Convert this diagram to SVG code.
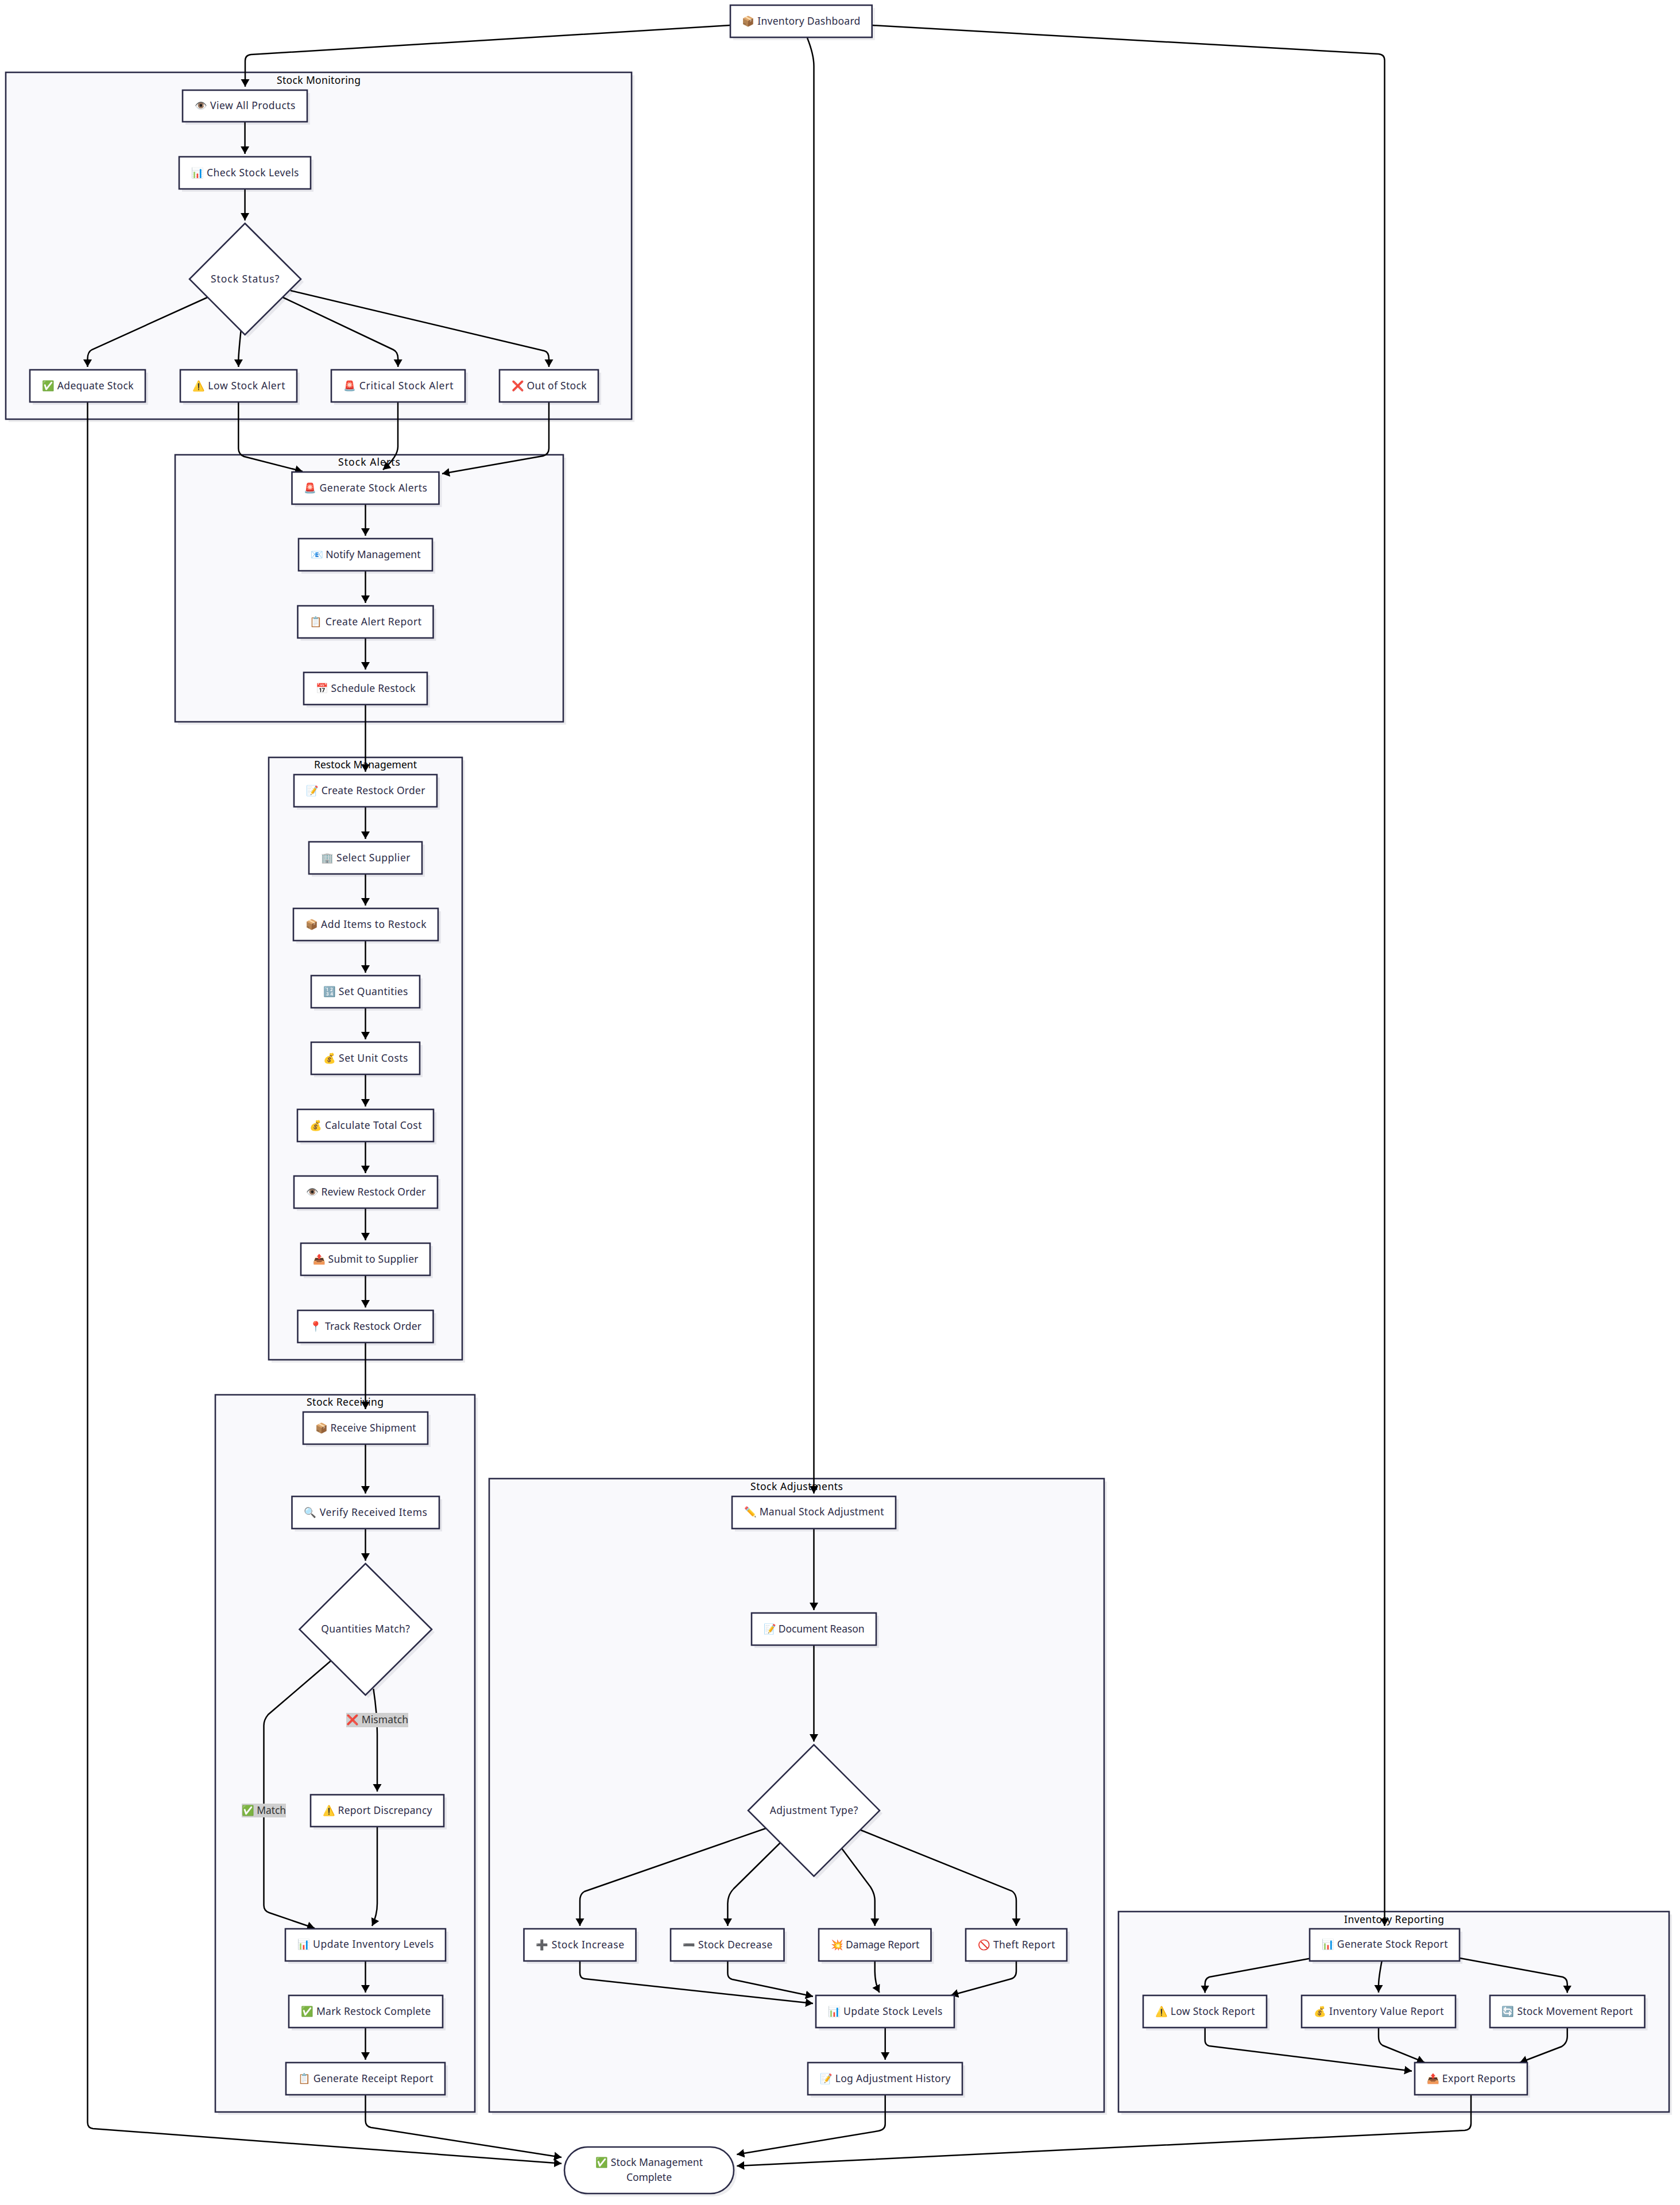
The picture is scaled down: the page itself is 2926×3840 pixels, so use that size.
<svg xmlns="http://www.w3.org/2000/svg" width="2926" height="3840" viewBox="0 0 2926 3840">
<style>
text{font-family:"Noto Sans","Liberation Sans","Noto Sans CJK SC",sans-serif;font-size:17.5px;fill:#2b2b47;text-anchor:middle;dominant-baseline:central;transform:translateY(-1.2px)}
.t{fill:#000;transform:none}
.n{fill:#fff;stroke:#2b2b47;stroke-width:2.6}
.c{fill:#f9f9fc;stroke:#2b2b47;stroke-width:2.6}
.s{fill:#1a1a33;opacity:.08;transform:translate(5px,5px)}
.e{fill:none;stroke:#000;stroke-width:2.5;marker-end:url(#a)}
.l{fill:#cfcfcf}
.el{fill:#333}
</style>
<defs>
<marker id="a" markerUnits="userSpaceOnUse" markerWidth="13" markerHeight="16" refX="13" refY="8" orient="auto"><path d="M0,0.5 L13,8 L0,15.5z" fill="#000"/></marker>
</defs>
<rect width="2926" height="3840" fill="#fff"/>
<g id="clusters">
<g id="cluster-monitoring"><rect class="s" x="10" y="126" width="1090" height="604"/><rect class="c" x="10" y="126" width="1090" height="604"/><text class="t" x="555" y="139" textLength="146">Stock Monitoring</text></g>
<g id="cluster-alerts"><rect class="s" x="305" y="792" width="676" height="465"/><rect class="c" x="305" y="792" width="676" height="465"/><text class="t" x="643" y="804" textLength="108">Stock Alerts</text></g>
<g id="cluster-restock"><rect class="s" x="468" y="1319" width="337" height="1049"/><rect class="c" x="468" y="1319" width="337" height="1049"/><text class="t" x="636.500" y="1331" textLength="179">Restock Management</text></g>
<g id="cluster-receiving"><rect class="s" x="375" y="2429" width="452" height="1249"/><rect class="c" x="375" y="2429" width="452" height="1249"/><text class="t" x="601" y="2441" textLength="134">Stock Receiving</text></g>
<g id="cluster-adjustments"><rect class="s" x="852" y="2575" width="1071" height="1103"/><rect class="c" x="852" y="2575" width="1071" height="1103"/><text class="t" x="1387.500" y="2588" textLength="161">Stock Adjustments</text></g>
<g id="cluster-reporting"><rect class="s" x="1948" y="3329" width="959" height="349"/><rect class="c" x="1948" y="3329" width="959" height="349"/><text class="t" x="2428" y="3342" textLength="174">Inventory Reporting</text></g>
</g>
<g id="connectors">
<path class="e" d="M1272,44 L437,95 Q427,96 427,106 L427,151"/>
<path class="e" d="M1406,66 Q1417.500,95 1417.500,115 L1417.500,2601"/>
<path class="e" d="M1519,44 L2401,94 Q2411.500,95 2411.500,105 L2411.500,3354"/>
<path class="e" d="M426.600,212 L426.600,268"/>
<path class="e" d="M426.600,329 L426.600,384"/>
<path class="e" d="M361,518 L160,609 Q152.500,613 152.500,625 L152.500,639"/>
<path class="e" d="M419.600,576 Q416,610 415.400,625 L415.400,639"/>
<path class="e" d="M493,518 L685,609 Q693.200,613 693.200,625 L693.200,639"/>
<path class="e" d="M506,506 L948,611 Q956,613 956,625 L956,639"/>
<path class="e" d="M152.500,700 L152.500,3696 Q152.500,3706 162,3707 L978,3767.700"/>
<path class="e" d="M415.300,700 L415.300,781 Q415.300,791 425,795 L527,821"/>
<path class="e" d="M693,700 L693,778 Q693,795 667,818"/>
<path class="e" d="M956,700 L956,781 Q956,791 946,794 L770,825"/>
<path class="e" d="M636.500,878 L636.500,933"/>
<path class="e" d="M636.500,994 L636.500,1050"/>
<path class="e" d="M636.500,1111 L636.500,1166"/>
<path class="e" d="M636.500,1227 L636.500,1344"/>
<path class="e" d="M636.500,1405 L636.500,1461"/>
<path class="e" d="M636.500,1522 L636.500,1577"/>
<path class="e" d="M636.500,1638 L636.500,1694"/>
<path class="e" d="M636.500,1755 L636.500,1810"/>
<path class="e" d="M636.500,1871 L636.500,1927"/>
<path class="e" d="M636.500,1988 L636.500,2043"/>
<path class="e" d="M636.500,2104 L636.500,2160"/>
<path class="e" d="M636.500,2221 L636.500,2277"/>
<path class="e" d="M636.500,2338 L636.500,2454"/>
<path class="e" d="M636.500,2515 L636.500,2601"/>
<path class="e" d="M636.500,2662 L636.500,2718"/>
<path class="e" d="M576.600,2892 L467,2986 Q459.500,2995 459.500,3005 L459.500,3318 Q459.500,3328 469,3331 L548,3358"/>
<path class="e" d="M650.400,2941 Q657,2985 657,3020 L657,3120"/>
<path class="e" d="M657,3181 L657,3315 Q657,3335 648,3354"/>
<path class="e" d="M636.500,3415 L636.500,3470"/>
<path class="e" d="M636.500,3531 L636.500,3587"/>
<path class="e" d="M636.500,3648 L636.500,3693 Q636.500,3703 646,3705 L978,3757"/>
<path class="e" d="M1417.500,2662 L1417.500,2804"/>
<path class="e" d="M1417.500,2865 L1417.500,3033"/>
<path class="e" d="M1334,3184 L1018,3294 Q1010,3298 1010,3310 L1010,3354"/>
<path class="e" d="M1358.600,3209.500 L1278,3289 Q1267.400,3300 1267.400,3315 L1267.400,3354"/>
<path class="e" d="M1466,3219 L1516,3286 Q1523.700,3298 1523.700,3310 L1523.700,3354"/>
<path class="e" d="M1499,3187 L1762,3293 Q1770,3298 1770,3310 L1770,3354"/>
<path class="e" d="M1010,3415 L1010,3436 Q1010,3445 1018,3446 L1416,3489"/>
<path class="e" d="M1267.400,3415 L1267.400,3436 Q1267.400,3445 1275,3447 L1416,3476.700"/>
<path class="e" d="M1523.700,3415 L1523.700,3433 Q1524,3455 1531.700,3470"/>
<path class="e" d="M1770,3415 L1770,3433 Q1770,3445 1758,3447 L1656,3475"/>
<path class="e" d="M1541.700,3531 L1541.700,3587"/>
<path class="e" d="M1541.700,3648 L1541.700,3699 Q1541.700,3709 1530,3711 L1283.300,3752"/>
<path class="e" d="M2562,3648 L2562,3698 Q2562,3709 2551,3710 L1283.300,3772"/>
<path class="e" d="M2281,3410.700 L2106,3443 Q2098.700,3446 2098.700,3455 L2098.700,3470.500"/>
<path class="e" d="M2406.700,3415 Q2401,3445 2401,3458 L2401,3470"/>
<path class="e" d="M2542,3410 L2722,3443 Q2729.700,3446 2729.700,3455 L2729.700,3470.500"/>
<path class="e" d="M2098.700,3531 L2098.700,3553 Q2098.700,3561 2106,3563 L2459,3606.700"/>
<path class="e" d="M2401,3531 L2401,3546 Q2401,3558 2408,3562 L2481,3591.700"/>
<path class="e" d="M2729.700,3531 L2729.700,3546 Q2729.700,3558 2720,3564 L2647,3592"/>
</g>
<g id="edge-labels">
<g id="label-match"><rect class="l" x="421" y="3141" width="77" height="24"/><text class="el" x="459.500" y="3153" textLength="77">✅ Match</text></g>
<g id="label-mismatch"><rect class="l" x="603" y="2983" width="108" height="25"/><text class="el" x="657" y="2995.500" textLength="108">❌ Mismatch</text></g>
</g>
<g id="dashboard"><rect class="s" x="1272" y="9" width="246.700" height="56"/><rect class="n" x="1272" y="9" width="246.700" height="56"/><text x="1395.300" y="37" textLength="206">📦 Inventory Dashboard</text></g>
<g id="view-all"><rect class="s" x="318" y="157" width="217" height="55"/><rect class="n" x="318" y="157" width="217" height="55"/><text x="426.500" y="184.500" textLength="176">👁️ View All Products</text></g>
<g id="check-levels"><rect class="s" x="312" y="273" width="229" height="56"/><rect class="n" x="312" y="273" width="229" height="56"/><text x="426.500" y="301" textLength="188">📊 Check Stock Levels</text></g>
<g id="stock-status"><polygon class="s" points="426.600,389 524,486 426.600,583 330,486"/><polygon class="n" points="426.600,389 524,486 426.600,583 330,486"/><text x="426.600" y="486" textLength="119.400">Stock Status?</text></g>
<g id="adequate"><rect class="s" x="52" y="644" width="201" height="56"/><rect class="n" x="52" y="644" width="201" height="56"/><text x="152.500" y="672" textLength="160">✅ Adequate Stock</text></g>
<g id="low-alert"><rect class="s" x="314" y="644" width="203" height="56"/><rect class="n" x="314" y="644" width="203" height="56"/><text x="415.500" y="672" textLength="162">⚠️ Low Stock Alert</text></g>
<g id="critical-alert"><rect class="s" x="577" y="644" width="233" height="56"/><rect class="n" x="577" y="644" width="233" height="56"/><text x="693.500" y="672" textLength="192">🚨 Critical Stock Alert</text></g>
<g id="out-of-stock"><rect class="s" x="870" y="644" width="172" height="56"/><rect class="n" x="870" y="644" width="172" height="56"/><text x="956" y="672" textLength="131">❌ Out of Stock</text></g>
<g id="generate-alerts"><rect class="s" x="508.500" y="822" width="256" height="56"/><rect class="n" x="508.500" y="822" width="256" height="56"/><text x="636.500" y="850" textLength="215">🚨 Generate Stock Alerts</text></g>
<g id="notify"><rect class="s" x="520" y="938" width="233" height="56"/><rect class="n" x="520" y="938" width="233" height="56"/><text x="636.500" y="966" textLength="192">📧 Notify Management</text></g>
<g id="alert-report"><rect class="s" x="518.500" y="1055" width="236" height="56"/><rect class="n" x="518.500" y="1055" width="236" height="56"/><text x="636.500" y="1083" textLength="195">📋 Create Alert Report</text></g>
<g id="schedule"><rect class="s" x="529" y="1171" width="215" height="56"/><rect class="n" x="529" y="1171" width="215" height="56"/><text x="636.500" y="1199" textLength="174">📅 Schedule Restock</text></g>
<g id="create-order"><rect class="s" x="512" y="1349" width="249" height="56"/><rect class="n" x="512" y="1349" width="249" height="56"/><text x="636.500" y="1377" textLength="208">📝 Create Restock Order</text></g>
<g id="select-supplier"><rect class="s" x="538" y="1466" width="197" height="56"/><rect class="n" x="538" y="1466" width="197" height="56"/><text x="636.500" y="1494" textLength="156">🏢 Select Supplier</text></g>
<g id="add-items"><rect class="s" x="511" y="1582" width="252" height="56"/><rect class="n" x="511" y="1582" width="252" height="56"/><text x="637" y="1610" textLength="211">📦 Add Items to Restock</text></g>
<g id="set-quantities"><rect class="s" x="542" y="1699" width="189" height="56"/><rect class="n" x="542" y="1699" width="189" height="56"/><text x="636.500" y="1727" textLength="148">🔢 Set Quantities</text></g>
<g id="set-unit-costs"><rect class="s" x="542" y="1815" width="189" height="56"/><rect class="n" x="542" y="1815" width="189" height="56"/><text x="636.500" y="1843" textLength="148">💰 Set Unit Costs</text></g>
<g id="total-cost"><rect class="s" x="518" y="1932" width="237" height="56"/><rect class="n" x="518" y="1932" width="237" height="56"/><text x="636.500" y="1960" textLength="196">💰 Calculate Total Cost</text></g>
<g id="review-order"><rect class="s" x="512" y="2048" width="250" height="56"/><rect class="n" x="512" y="2048" width="250" height="56"/><text x="637" y="2076" textLength="209">👁️ Review Restock Order</text></g>
<g id="submit"><rect class="s" x="524" y="2165" width="225" height="56"/><rect class="n" x="524" y="2165" width="225" height="56"/><text x="636.500" y="2193" textLength="184">📤 Submit to Supplier</text></g>
<g id="track"><rect class="s" x="518.500" y="2282" width="236" height="56"/><rect class="n" x="518.500" y="2282" width="236" height="56"/><text x="636.500" y="2310" textLength="195">📍 Track Restock Order</text></g>
<g id="receive"><rect class="s" x="528" y="2459" width="217" height="56"/><rect class="n" x="528" y="2459" width="217" height="56"/><text x="636.500" y="2487" textLength="176">📦 Receive Shipment</text></g>
<g id="verify"><rect class="s" x="508.500" y="2606" width="256.500" height="56"/><rect class="n" x="508.500" y="2606" width="256.500" height="56"/><text x="636.500" y="2634" textLength="215">🔍 Verify Received Items</text></g>
<g id="quantities-match"><polygon class="s" points="636.500,2723 752,2837.500 636.500,2952 521.500,2837.500"/><polygon class="n" points="636.500,2723 752,2837.500 636.500,2952 521.500,2837.500"/><text x="636.500" y="2837.500" textLength="154.600">Quantities Match?</text></g>
<g id="discrepancy"><rect class="s" x="541" y="3125.500" width="232" height="55.500"/><rect class="n" x="541" y="3125.500" width="232" height="55.500"/><text x="657" y="3153" textLength="191">⚠️ Report Discrepancy</text></g>
<g id="update-inventory"><rect class="s" x="497" y="3359" width="279" height="56"/><rect class="n" x="497" y="3359" width="279" height="56"/><text x="636.500" y="3386.500" textLength="238">📊 Update Inventory Levels</text></g>
<g id="mark-complete"><rect class="s" x="503" y="3475" width="268" height="56"/><rect class="n" x="503" y="3475" width="268" height="56"/><text x="637" y="3503" textLength="226">✅ Mark Restock Complete</text></g>
<g id="receipt"><rect class="s" x="498" y="3592" width="277" height="56"/><rect class="n" x="498" y="3592" width="277" height="56"/><text x="636.500" y="3620" textLength="236">📋 Generate Receipt Report</text></g>
<g id="manual"><rect class="s" x="1275" y="2606" width="285" height="56"/><rect class="n" x="1275" y="2606" width="285" height="56"/><text x="1417.500" y="2633" textLength="244">✏️ Manual Stock Adjustment</text></g>
<g id="document"><rect class="s" x="1309" y="2809" width="217" height="56"/><rect class="n" x="1309" y="2809" width="217" height="56"/><text x="1417.500" y="2837" textLength="176">📝 Document Reason</text></g>
<g id="adjustment-type"><polygon class="s" points="1417.500,3038.500 1532,3153 1417.500,3267.500 1303,3153"/><polygon class="n" points="1417.500,3038.500 1532,3153 1417.500,3267.500 1303,3153"/><text x="1417.500" y="3153" textLength="153.600">Adjustment Type?</text></g>
<g id="increase"><rect class="s" x="912.500" y="3359" width="195" height="56"/><rect class="n" x="912.500" y="3359" width="195" height="56"/><text x="1010" y="3387" textLength="154">➕ Stock Increase</text></g>
<g id="decrease"><rect class="s" x="1168" y="3359" width="197.500" height="56"/><rect class="n" x="1168" y="3359" width="197.500" height="56"/><text x="1267" y="3387" textLength="156.500">➖ Stock Decrease</text></g>
<g id="damage"><rect class="s" x="1426" y="3359" width="195.500" height="56"/><rect class="n" x="1426" y="3359" width="195.500" height="56"/><text x="1524" y="3387" textLength="154.500">💥 Damage Report</text></g>
<g id="theft"><rect class="s" x="1682" y="3359" width="176" height="56"/><rect class="n" x="1682" y="3359" width="176" height="56"/><text x="1770" y="3387" textLength="135">🚫 Theft Report</text></g>
<g id="update-stock"><rect class="s" x="1421" y="3475" width="241" height="56"/><rect class="n" x="1421" y="3475" width="241" height="56"/><text x="1541.500" y="3503" textLength="200">📊 Update Stock Levels</text></g>
<g id="log-history"><rect class="s" x="1407" y="3592" width="269" height="56"/><rect class="n" x="1407" y="3592" width="269" height="56"/><text x="1541.500" y="3620" textLength="228">📝 Log Adjustment History</text></g>
<g id="generate-report"><rect class="s" x="2281" y="3359" width="261" height="56"/><rect class="n" x="2281" y="3359" width="261" height="56"/><text x="2411.500" y="3386" textLength="220">📊 Generate Stock Report</text></g>
<g id="low-report"><rect class="s" x="1991" y="3475" width="215" height="56"/><rect class="n" x="1991" y="3475" width="215" height="56"/><text x="2098.500" y="3503" textLength="174">⚠️ Low Stock Report</text></g>
<g id="value-report"><rect class="s" x="2267" y="3475" width="268" height="56"/><rect class="n" x="2267" y="3475" width="268" height="56"/><text x="2401" y="3503" textLength="227">💰 Inventory Value Report</text></g>
<g id="movement-report"><rect class="s" x="2595" y="3475" width="269.500" height="56"/><rect class="n" x="2595" y="3475" width="269.500" height="56"/><text x="2729.700" y="3503" textLength="228.500">🔄 Stock Movement Report</text></g>
<g id="export"><rect class="s" x="2464" y="3592" width="196" height="56"/><rect class="n" x="2464" y="3592" width="196" height="56"/><text x="2562" y="3620" textLength="155">📤 Export Reports</text></g>
<g id="complete"><rect class="s" x="983" y="3739" width="295" height="81" rx="40.500"/><rect class="n" x="983" y="3739" width="295" height="81" rx="40.500"/><text x="1130.500" y="3766" textLength="187">✅ Stock Management</text><text x="1130.500" y="3792" textLength="79">Complete</text></g>
</svg>
